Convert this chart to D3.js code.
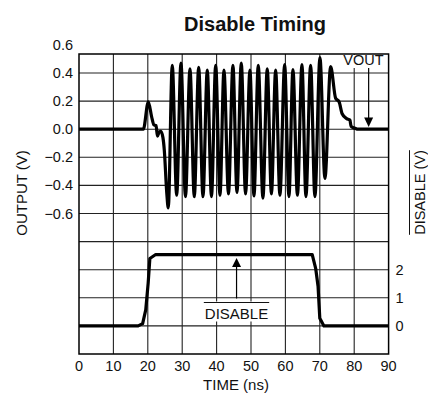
<!DOCTYPE html>
<html>
<head>
<meta charset="utf-8">
<script src="https://cdn.jsdelivr.net/npm/d3@7"></script>
<style>
html,body{margin:0;padding:0;background:#fff;}
svg{display:block;font-family:"Liberation Sans",Arial,Helvetica,sans-serif;}
</style>
</head>
<body>
<svg id="chart" width="428" height="400"></svg>
<script>
// ---- data ----
const vTime = [0, 18.7, 20.15, 21.1, 21.8, 22.4, 22.8, 23.3, 23.8, 24.4, 24.8, 25.5, 25.95,
  27.11, 28.39, 29.64, 30.95, 32.26, 33.51, 34.79, 36.04, 37.29, 38.51, 39.73, 40.98,
  42.14, 43.45, 44.75, 45.92, 47.17, 48.42, 49.69, 50.86, 52.11, 53.47, 54.72, 55.94,
  57.16, 58.41, 59.78, 61.03, 62.19, 63.50, 64.81, 65.97, 67.33, 68.58, 70.04, 71.49, 73.15,
  74.6, 75.6, 76.5, 77.8, 78.75, 79.1, 80.4, 81, 90];
const vOut = [0, 0, 0.195, 0.09, 0.03, 0.025, -0.05, -0.02, -0.015, -0.06, -0.15, -0.45, -0.56,
  0.455, -0.47, 0.47, -0.48, 0.43, -0.48, 0.44, -0.48, 0.42, -0.48, 0.455, -0.47,
  0.42, -0.46, 0.455, -0.45, 0.47, -0.46, 0.42, -0.475, 0.455, -0.49, 0.43, -0.46,
  0.42, -0.47, 0.46, -0.48, 0.425, -0.47, 0.46, -0.48, 0.455, -0.48, 0.51, -0.35, 0.445,
  0.22, 0.195, 0.11, 0.075, 0.065, 0.02, 0.005, 0, 0];
const dTime = [0, 17.2, 18.5, 19.4, 20.1, 20.6, 22.3, 67.8, 68.8, 69.5, 70.0, 71.2, 90];
const dVal  = [0, 0, 0.08, 0.57, 1.51, 2.40, 2.54, 2.54, 2.05, 1.4, 0.27, 0, 0];
const xTicks = [0, 10, 20, 30, 40, 50, 60, 70, 80, 90];
const yTicksL = [0.6, 0.4, 0.2, 0.0, -0.2, -0.4, -0.6];
const yTicksR = [0, 1, 2];
const gridY = [0.4, 0.2, 0.0, -0.2, -0.4, -0.6, -0.8, -1.0, -1.2, -1.4];
const title = "Disable Timing";
const xLabel = "TIME (ns)";
const yLabelL = "OUTPUT (V)";
const yLabelR = "DISABLE (V)";

// ---- layout ----
const L = 79, R = 388.6, T = 54, B = 354;
const svg = d3.select("#chart");
const x = d3.scaleLinear().domain([0, 90]).range([L, R]);
const yL = d3.scaleLinear().domain([-1.6, 0.6]).range([B, 44.9]);
const yR = d3.scaleLinear().domain([-1, 10]).range([B, 44.9]);

// grid
const g = svg.append("g");
g.selectAll("line.v").data(xTicks.slice(1, -1)).join("line")
  .attr("x1", d => x(d)).attr("x2", d => x(d)).attr("y1", T).attr("y2", B)
  .attr("stroke", "#222").attr("stroke-width", 1.1);
g.selectAll("line.h").data(gridY).join("line")
  .attr("x1", L).attr("x2", R).attr("y1", d => yL(d)).attr("y2", d => yL(d))
  .attr("stroke", "#222").attr("stroke-width", 1.1);

// annotation backgrounds
svg.append("rect").attr("x", 341).attr("y", 55).attr("width", 45).attr("height", 13).attr("fill", "#fff");
svg.append("rect").attr("x", 201).attr("y", 301.5).attr("width", 70).attr("height", 20).attr("fill", "#fff");

// lines
const vData = vTime.map((t, i) => [t, vOut[i]]);
const dData = dTime.map((t, i) => [t, dVal[i]]);
svg.append("path").datum(vData)
  .attr("d", d3.line().x(d => x(d[0])).y(d => yL(d[1])).curve(d3.curveMonotoneX))
  .attr("fill", "none").attr("stroke", "#000").attr("stroke-width", 3.2).attr("stroke-linejoin", "round");
svg.append("path").datum(dData)
  .attr("d", d3.line().x(d => x(d[0])).y(d => yR(d[1])))
  .attr("fill", "none").attr("stroke", "#000").attr("stroke-width", 3.2).attr("stroke-linejoin", "round");

// border
svg.append("rect").attr("x", L).attr("y", T).attr("width", R - L).attr("height", B - T)
  .attr("fill", "none").attr("stroke", "#000").attr("stroke-width", 1.5);

// ticks labels
svg.selectAll("text.xt").data(xTicks).join("text")
  .attr("x", d => x(d)).attr("y", 370.5).attr("text-anchor", "middle")
  .attr("font-size", "14.5px").attr("fill", "#111").text(d => d);
svg.selectAll("text.yl").data(yTicksL).join("text")
  .attr("x", 73).attr("y", d => yL(d) + 5).attr("text-anchor", "end")
  .attr("font-size", "14.5px").attr("fill", "#111").text(d => d3.format(".1f")(d));
svg.selectAll("text.yr").data(yTicksR).join("text")
  .attr("x", 395.5).attr("y", d => yR(d) + 5).attr("text-anchor", "start")
  .attr("font-size", "14.5px").attr("fill", "#111").text(d => d);

// title & axis labels
svg.append("text").attr("x", 255).attr("y", 31).attr("text-anchor", "middle")
  .attr("font-size", "20px").attr("font-weight", "bold").attr("fill", "#111").text(title);
svg.append("text").attr("x", 236).attr("y", 390).attr("text-anchor", "middle")
  .attr("font-size", "15px").attr("fill", "#111").text(xLabel);
svg.append("text").attr("transform", "translate(26.5,193) rotate(-90)").attr("text-anchor", "middle")
  .attr("font-size", "15px").attr("fill", "#111").text(yLabelL);
const rl = svg.append("text").attr("transform", "translate(424.5,192.5) rotate(-90)").attr("text-anchor", "middle")
  .attr("font-size", "14.5px").attr("fill", "#111").text(yLabelR);
const rlLen = rl.node().getComputedTextLength();
svg.append("line").attr("x1", 409.5).attr("x2", 409.5)
  .attr("y1", 192.5 - rlLen / 2).attr("y2", 192.5 + rlLen / 2)
  .attr("stroke", "#111").attr("stroke-width", 1);

// VOUT annotation
svg.append("text").attr("x", 363.5).attr("y", 65).attr("text-anchor", "middle")
  .attr("font-size", "14.5px").attr("fill", "#111").text("VOUT");
svg.append("line").attr("x1", x(84.2)).attr("x2", x(84.2)).attr("y1", 68).attr("y2", 119)
  .attr("stroke", "#000").attr("stroke-width", 1.2);
svg.append("path").attr("d", `M${x(84.2) - 4.5},117.5 L${x(84.2) + 4.5},117.5 L${x(84.2)},127 Z`).attr("fill", "#000");

// DISABLE annotation
const dt = svg.append("text").attr("x", 236.5).attr("y", 318.5).attr("text-anchor", "middle")
  .attr("font-size", "15px").attr("fill", "#111").text("DISABLE");
const dtLen = dt.node().getComputedTextLength();
svg.append("line").attr("x1", 236.5 - dtLen / 2 - 1).attr("x2", 236.5 + dtLen / 2 + 1)
  .attr("y1", 302.5).attr("y2", 302.5).attr("stroke", "#111").attr("stroke-width", 1);
svg.append("line").attr("x1", x(45.8)).attr("x2", x(45.8)).attr("y1", 298.5).attr("y2", 265)
  .attr("stroke", "#000").attr("stroke-width", 1.2);
svg.append("path").attr("d", `M${x(45.8) - 4.5},267 L${x(45.8) + 4.5},267 L${x(45.8)},258 Z`).attr("fill", "#000");
</script>
</body>
</html>
